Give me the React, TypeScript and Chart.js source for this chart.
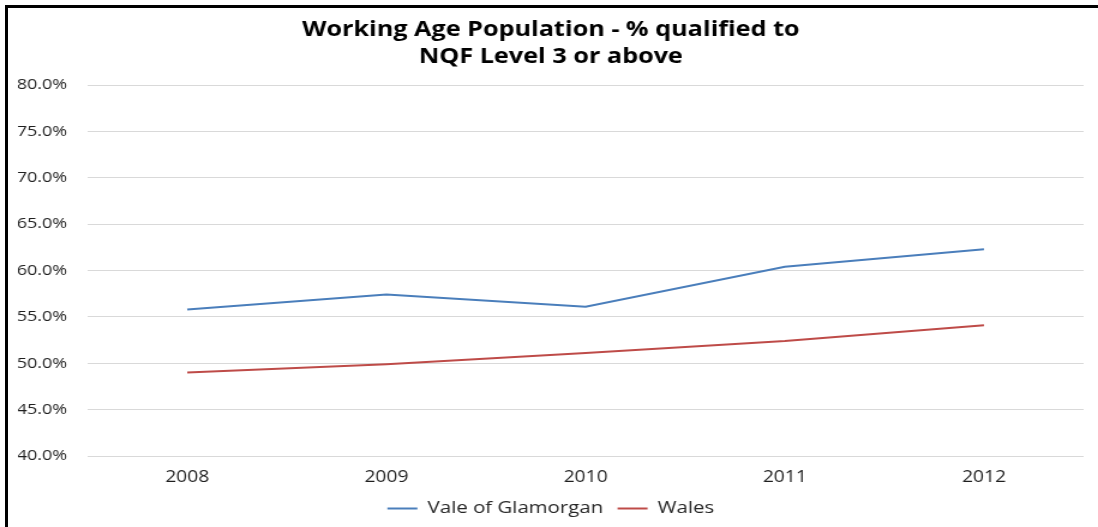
import React, { useEffect, useRef } from "react";
import { Chart, registerables } from "chart.js";

Chart.register(...registerables);

const years = ["2008", "2009", "2010", "2011", "2012"];
const valeOfGlamorgan = [55.8, 57.4, 56.1, 60.4, 62.3];
const wales = [49.0, 49.9, 51.1, 52.4, 54.1];
const titleLines = ["Working Age Population - % qualified to", "NQF Level 3 or above"];
const seriesNames = ["Vale of Glamorgan", "Wales"];

// The drawing is laid out on a narrower canvas and widened horizontally.
const STRETCH = 1.2;
const PAGE_W = 1098;
const PAGE_H = 527;
const CANVAS_W = Math.round(PAGE_W / STRETCH);

const FONT = "'Open Sans', 'DejaVu Sans', sans-serif";

export default function App() {
  const canvasRef = useRef<HTMLCanvasElement | null>(null);

  useEffect(() => {
    document.body.style.margin = "0";
    const canvas = canvasRef.current;
    if (!canvas) return;
    const chart = new Chart(canvas, {
      type: "line",
      data: {
        labels: years,
        datasets: [
          {
            label: seriesNames[0],
            data: valeOfGlamorgan,
            borderColor: "#4a7ebb",
            backgroundColor: "#4a7ebb",
            borderWidth: 2,
            pointRadius: 0,
            tension: 0,
          },
          {
            label: seriesNames[1],
            data: wales,
            borderColor: "#be4b48",
            backgroundColor: "#be4b48",
            borderWidth: 2,
            pointRadius: 0,
            tension: 0,
          },
        ],
      },
      options: {
        responsive: false,
        animation: false,
        devicePixelRatio: 1,
        layout: { padding: { left: 15, right: 12, top: 0, bottom: 0 } },
        plugins: {
          title: {
            display: true,
            text: titleLines,
            color: "#000000",
            font: { family: FONT, size: 21, weight: "bold", lineHeight: 27 / 21 },
            padding: { top: 17, bottom: 14 },
          },
          legend: {
            display: true,
            position: "bottom",
            labels: {
              color: "#262626",
              font: { family: FONT, size: 17 },
              usePointStyle: true,
              pointStyle: "line",
              pointStyleWidth: 25,
              padding: 12,
            },
          },
          tooltip: { enabled: false },
        },
        scales: {
          x: {
            offset: true,
            grid: { display: false, drawTicks: false },
            border: { display: false },
            ticks: {
              color: "#1f1f1f",
              font: { family: FONT, size: 16 },
              padding: 12,
              maxRotation: 0,
            },
            afterFit: (scale) => {
              scale.height = 32;
            },
          },
          y: {
            min: 40,
            max: 80,
            grid: { color: "#d9d9d9", lineWidth: 1, drawTicks: false },
            border: { display: false },
            ticks: {
              stepSize: 5,
              color: "#1f1f1f",
              font: { family: FONT, size: 15 },
              padding: 17,
              callback: (v) => Number(v).toFixed(1) + "%",
            },
            afterFit: (scale) => {
              scale.width = 58;
            },
          },
        },
      },
    });
    return () => chart.destroy();
  }, []);

  return (
    <div
      style={{
        position: "absolute",
        left: 0,
        top: 0,
        width: PAGE_W,
        height: PAGE_H,
        overflow: "hidden",
        background: "#ffffff",
      }}
    >
      <div
        style={{
          position: "absolute",
          left: 0,
          top: 0,
          width: CANVAS_W,
          height: PAGE_H,
          transform: `scaleX(${PAGE_W / CANVAS_W})`,
          transformOrigin: "0 0",
        }}
      >
        <canvas ref={canvasRef} width={CANVAS_W} height={PAGE_H} />
      </div>
      <div
        style={{
          position: "absolute",
          left: 5,
          top: 5,
          width: PAGE_W + 20,
          height: PAGE_H + 20,
          borderTop: "3px solid #000",
          borderLeft: "3px solid #000",
          boxSizing: "border-box",
          pointerEvents: "none",
        }}
      />
    </div>
  );
}
